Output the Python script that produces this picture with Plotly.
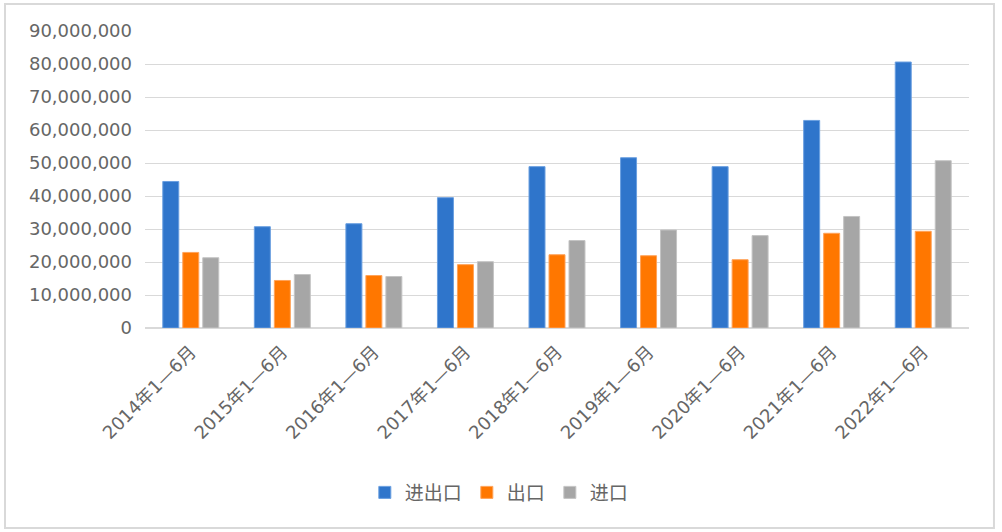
import plotly.graph_objects as go

categories = ["2014年1—6月", "2015年1—6月", "2016年1—6月", "2017年1—6月", "2018年1—6月",
              "2019年1—6月", "2020年1—6月", "2021年1—6月", "2022年1—6月"]
total = [44400000, 30700000, 31600000, 39500000, 48900000, 51600000, 48900000, 62900000, 80600000]
exports = [22900000, 14400000, 15900000, 19200000, 22200000, 21900000, 20700000, 28700000, 29300000]
imports = [21300000, 16200000, 15600000, 20100000, 26500000, 29700000, 28000000, 33800000, 50700000]
series_names = ["进出口", "出口", "进口"]
colors = ["#2F75CB", "#FF7700", "#A6A6A6"]
edge_colors = ["#6A9FE0", "#FFA35A", "#C4C4C4"]
tick_vals = [0, 10000000, 20000000, 30000000, 40000000, 50000000, 60000000, 70000000, 80000000, 90000000]

font_family = "DejaVu Sans, Noto Sans CJK SC, sans-serif"
text_color = "#666666"

fig = go.Figure()
for name, vals, c, ec in zip(series_names, [total, exports, imports], colors, edge_colors):
    fig.add_trace(go.Bar(x=categories, y=vals, name=name,
                         marker=dict(color=c, line=dict(color=ec, width=1))))

fig.update_layout(
    width=1002, height=532,
    margin=dict(l=145, r=33, t=31, b=204),
    paper_bgcolor="white", plot_bgcolor="white",
    barmode="group", bargap=0.345, bargroupgap=0.2,
    font=dict(family=font_family, color=text_color, size=18),
    showlegend=True,
    legend=dict(orientation="h", x=0.43, xanchor="center", y=-0.49, yanchor="top",
                font=dict(size=19, color=text_color), itemwidth=30, traceorder="normal"),
    xaxis=dict(tickangle=-45, tickfont=dict(size=18, color=text_color), showgrid=False,
               showline=False, ticks="", ticklabelstandoff=9),
    yaxis=dict(range=[0, 90000000], tickvals=tick_vals, tickformat=",d",
               tickfont=dict(size=18, color=text_color), gridcolor="#D9D9D9", gridwidth=1,
               zeroline=True, zerolinecolor="#D9D9D9", zerolinewidth=1.5,
               showline=False, ticks="", ticklabelstandoff=12),
    shapes=[dict(type="rect", xref="paper", yref="paper",
                 x0=-0.1699, x1=1.0303, y0=-0.6734, y1=1.0909,
                 line=dict(color="#D9D9D9", width=2), fillcolor="rgba(0,0,0,0)", layer="below")],
)

fig.write_html("out.html", config={"displayModeBar": False},
               post_script="document.body.style.margin='0';document.body.style.overflow='hidden';")
